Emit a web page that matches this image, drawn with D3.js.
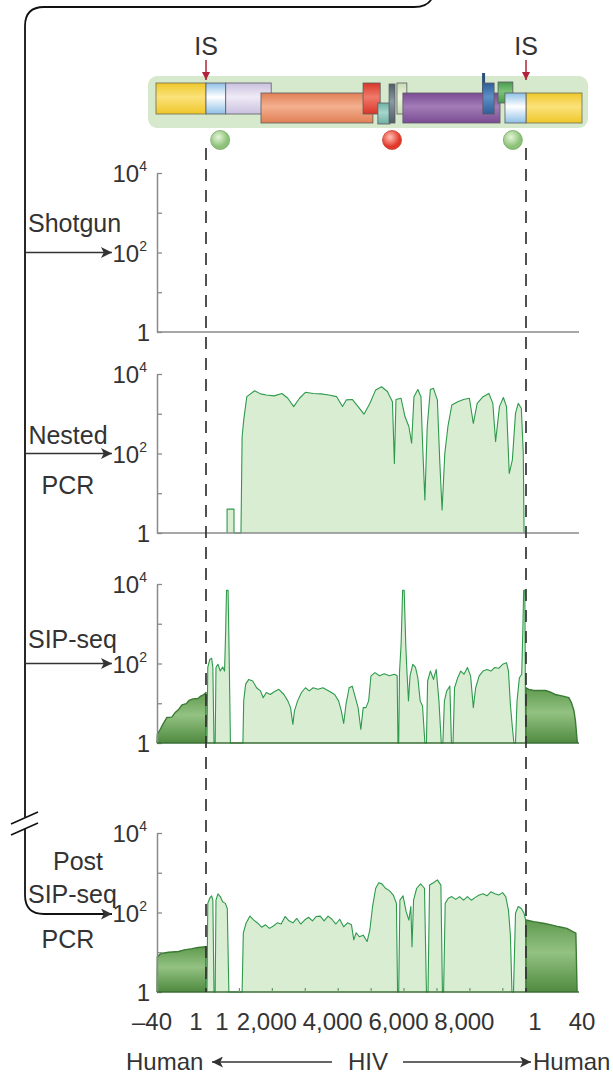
<!DOCTYPE html>
<html>
<head>
<meta charset="utf-8">
<script src="https://cdn.jsdelivr.net/npm/d3@7"></script>
<style>
  body { margin: 0; background: #fff; }
  svg { display: block; font-family: "Liberation Sans", Arial, sans-serif; }
</style>
</head>
<body>
<svg id="chart" width="613" height="1078"></svg>
<script>
// genome length (HXB2) and flanking human sequence
var hivLen = 9719;

// tick labels on the bottom axis
var leftTicks = [-40, 1];
var hivTicks = [1, 2000, 4000, 6000, 8000];
var rightTicks = [1, 40];
var hivMinor = [1000, 2000, 3000, 4000, 5000, 6000, 7000, 8000, 9000];

// genome map: [name, start, end, frame]
var genes = [
  ["ltr5", 0, 600, "top"],
  ["gag", 600, 1980, "top"],
  ["pol", 1670, 5070, "low"],
  ["vif", 4770, 5290, "top"],
  ["vpr", 5220, 5590, "small"],
  ["tat", 5560, 5740, "tall"],
  ["rev", 5800, 6100, "top"],
  ["env", 5980, 8930, "low"],
  ["vpu", 8410, 8750, "top"],
  ["nef", 8870, 9320, "mini"],
  ["ltr3", 9080, 9719, "low"]
];
var circlePos = [430, 5650, 9320];
var circleKind = ["green", "red", "green"];

// coverage, log10 of read depth: [position, log10]
var nestedHiv = [
  [640,0],[640,0.6],[850,0.6],[850,0],[1062,0],[1097,2.42],[1145,2.84],[1240,3.43],[1477,3.58],
  [1655,3.50],[1833,3.47],[2070,3.45],[2307,3.51],[2485,3.39],[2663,3.18],[2841,3.39],[3019,3.54],
  [3256,3.51],[3493,3.50],[3730,3.47],[3968,3.43],[4146,3.18],[4264,3.35],[4442,3.36],[4620,3.18],
  [4798,2.99],[4976,3.26],[5154,3.60],[5332,3.68],[5509,3.56],[5662,3.30],[5722,1.75],[5770,3.36],
  [5924,3.39],[6043,2.93],[6161,2.68],[6245,2.26],[6316,3.43],[6434,3.61],[6529,3.43],[6577,2.26],
  [6648,0.83],[6719,2.68],[6814,3.61],[6909,3.64],[7027,3.35],[7098,1.84],[7170,0.58],[7253,2.0],
  [7348,2.68],[7466,3.22],[7646,3.30],[7822,3.36],[8000,3.39],[8119,2.76],[8237,3.26],[8415,3.43],
  [8593,3.51],[8712,3.26],[8795,2.30],[8913,3.18],[9032,3.41],[9127,3.18],[9210,1.50],[9305,1.84],
  [9400,3.01],[9483,3.26],[9577,3.14],[9637,2.0],[9660,0]
];

var sipLeft = [
  [-40,0],[-39.7,0.22],[-37.4,0.34],[-35.1,0.47],[-31.8,0.64],[-27.6,0.65],[-25,0.76],[-21.7,0.85],
  [-19.1,0.96],[-15.5,0.99],[-13.2,1.07],[-9.9,1.11],[-5.7,1.12],[-3.4,1.18],[-0.8,1.22],[1,1.27],[1,0]
];
var sipHiv = [
  [30,0],[54,1.90],[113,2.10],[172,2.13],[208,1.90],[243,0],[279,0],[303,1.90],[362,1.98],[433,1.81],
  [505,1.91],[564,1.81],[599,2.90],[623,3.84],[671,3.84],[706,2.06],[742,0],[1121,0],[1145,1.06],
  [1204,1.48],[1299,1.60],[1418,1.56],[1536,1.39],[1655,1.31],[1738,1.14],[1833,1.27],[1951,1.22],
  [2070,1.29],[2212,1.35],[2367,1.22],[2485,1.06],[2568,0.89],[2639,0.47],[2687,0.81],[2782,1.06],
  [2900,1.27],[3019,1.39],[3137,1.31],[3256,1.39],[3398,1.35],[3552,1.39],[3730,1.31],[3908,1.22],
  [4027,1.06],[4110,0.81],[4181,0.49],[4252,0.97],[4347,1.39],[4442,1.43],[4537,1.14],[4620,0.89],
  [4703,0.34],[4774,0.89],[4857,0.89],[4940,1.06],[5011,1.69],[5130,1.77],[5272,1.69],[5414,1.74],
  [5569,1.69],[5723,1.73],[5806,1.69],[5830,0],[5853,0],[5877,1.77],[5925,2.48],[5972,3.84],
  [6019,3.84],[6067,2.48],[6102,1.81],[6150,1.06],[6197,1.69],[6280,1.98],[6363,1.90],[6434,1.64],
  [6505,1.06],[6577,0.93],[6648,0],[6695,0],[6731,1.56],[6814,1.81],[6909,1.60],[6992,1.85],
  [7075,1.06],[7146,0],[7193,0],[7241,1.06],[7312,1.31],[7407,1.43],[7454,0],[7502,0],[7549,1.39],
  [7644,1.64],[7739,1.81],[7834,1.73],[7941,1.90],[8036,1.69],[8119,0.89],[8190,1.39],[8297,1.69],
  [8415,1.81],[8534,1.85],[8652,1.81],[8771,1.90],[8890,1.88],[9008,1.98],[9127,2.02],[9186,1.81],
  [9245,0.97],[9305,0.39],[9352,0],[9400,0],[9447,1.06],[9518,1.64],[9589,1.73],[9625,2.90],
  [9648,3.84],[9684,3.84],[9708,0]
];
var sipRight = [
  [1,0],[1,1.39],[3,1.35],[6.7,1.32],[15.3,1.32],[18.2,1.29],[22.5,1.22],[28.2,1.18],[32.5,1.14],
  [34.5,1.01],[36.3,0.81],[37.4,0.55],[38.8,0]
];

var postLeft = [
  [-40,0],[-39.7,0.89],[-36.7,0.97],[-30.2,1.0],[-22,1.02],[-17.1,1.06],[-10.6,1.09],[-5.7,1.12],[1,1.14],[1,0]
];
var postHiv = [
  [30,0],[54,2.23],[113,2.36],[172,2.42],[208,2.31],[243,0],[279,0],[303,2.31],[362,2.47],[433,2.40],
  [505,2.27],[587,2.23],[647,2.10],[694,0],[1097,0],[1133,1.48],[1216,1.73],[1335,1.91],[1453,1.81],
  [1572,1.73],[1690,1.63],[1809,1.69],[1928,1.60],[2046,1.66],[2165,1.74],[2283,1.71],[2402,1.90],
  [2520,1.79],[2639,1.74],[2758,1.85],[2876,1.71],[2995,1.81],[3113,1.88],[3232,1.79],[3351,1.90],
  [3469,1.91],[3588,1.79],[3707,1.91],[3825,1.83],[3944,1.71],[4062,1.83],[4181,1.64],[4299,1.74],
  [4418,1.69],[4489,1.31],[4561,1.49],[4656,1.39],[4774,1.43],[4893,1.27],[4976,1.56],[5059,2.15],
  [5154,2.61],[5248,2.75],[5343,2.72],[5450,2.61],[5569,2.55],[5688,2.44],[5783,2.23],[5818,0],
  [5853,0],[5889,2.31],[5984,2.42],[6079,2.02],[6161,1.81],[6221,2.15],[6257,1.14],[6304,2.31],
  [6399,2.61],[6517,2.72],[6636,2.61],[6695,0],[6743,0],[6790,2.69],[6909,2.75],[7027,2.82],
  [7134,2.69],[7181,0],[7217,0],[7265,2.23],[7360,2.36],[7466,2.40],[7585,2.33],[7703,2.40],
  [7822,2.31],[7941,2.40],[8059,2.31],[8178,2.38],[8297,2.44],[8415,2.47],[8534,2.42],[8652,2.52],
  [8771,2.47],[8890,2.44],[9008,2.50],[9103,2.40],[9186,2.06],[9245,1.43],[9293,0],[9340,0],
  [9400,1.98],[9483,2.15],[9577,2.10],[9660,1.98],[9708,1.81],[9719,0]
];
var postRight = [
  [1,0],[1,1.81],[6.7,1.77],[13.8,1.73],[19.6,1.69],[25.3,1.64],[31.1,1.60],[35.4,1.52],[37.7,1.48],[38.6,0]
];

var methods = [["Shotgun"], ["Nested", "PCR"], ["SIP-seq"], ["Post", "SIP-seq", "PCR"]];

// ---------------------------------------------------------------
var svg = d3.select("svg");
var axisX = 157, plotW = 422;
var panelTop = [173, 374, 584, 833], panelH = 159;
var ink = "#333", axisCol = "#8a8a8a";
var lightFill = "#d9edd3", lineCol = "#2e9a4c";
var fs = 25, tfs = 24;

var xLeft = d3.scaleLinear().domain([-40, 1]).range([157, 206]);
var xHiv = d3.scaleLinear().domain([0, hivLen]).range([206, 526]);
var xRight = d3.scaleLinear().domain([1, 40]).range([526, 579]);

var defs = svg.append("defs");
var hg = defs.append("linearGradient").attr("id", "human").attr("x1", 0).attr("y1", 0).attr("x2", 0).attr("y2", 1);
hg.append("stop").attr("offset", "0%").attr("stop-color", "#5f9a4e");
hg.append("stop").attr("offset", "45%").attr("stop-color", "#93c282");
hg.append("stop").attr("offset", "100%").attr("stop-color", "#4f8a3f");

function grad(id, c0, c1) {
  var lg = defs.append("linearGradient").attr("id", id).attr("x1", 0).attr("y1", 0).attr("x2", 0).attr("y2", 1);
  lg.append("stop").attr("offset", "0%").attr("stop-color", c1);
  lg.append("stop").attr("offset", "45%").attr("stop-color", c0);
  lg.append("stop").attr("offset", "100%").attr("stop-color", c1);
}
var geneCol = {
  flank: ["#fbe27a", "#efc72a"], ltr5: ["#ffffff", "#8fc0e6"], ltr3: ["#ffffff", "#8fc0e6"],
  gag: ["#efeaf6", "#c9c1de"], pol: ["#f4b08f", "#e07f56"], vif: ["#f07a6a", "#d8362a"],
  vpr: ["#a7d6cc", "#6fb0a4"], tat: ["#8a9aa2", "#4e5d66"], rev: ["#eef4e2", "#c8dcb2"],
  env: ["#a27cb7", "#7a4c93"], vpu: ["#5e8fc6", "#2f5e98"], nef: ["#7cc27a", "#4a9a50"]
};
Object.keys(geneCol).forEach(function(k) { grad("g_" + k, geneCol[k][0], geneCol[k][1]); });
var cg = defs.append("radialGradient").attr("id", "c_green").attr("cx", "40%").attr("cy", "35%");
cg.append("stop").attr("offset", "0%").attr("stop-color", "#e6f5da");
cg.append("stop").attr("offset", "100%").attr("stop-color", "#8cc277");
var cr = defs.append("radialGradient").attr("id", "c_red").attr("cx", "40%").attr("cy", "35%");
cr.append("stop").attr("offset", "0%").attr("stop-color", "#ffc2b4");
cr.append("stop").attr("offset", "100%").attr("stop-color", "#e2382a");

var ah = defs.append("marker").attr("id", "arrow").attr("viewBox", "0 0 10 10")
  .attr("refX", 10).attr("refY", 5).attr("markerWidth", 14).attr("markerHeight", 11)
  .attr("markerUnits", "userSpaceOnUse").attr("orient", "auto");
ah.append("path").attr("d", "M0,0L10,5L0,10L2.5,5z").attr("fill", ink);
var ra = defs.append("marker").attr("id", "redarrow").attr("viewBox", "0 0 10 10")
  .attr("refX", 10).attr("refY", 5).attr("markerWidth", 8).attr("markerHeight", 8)
  .attr("markerUnits", "userSpaceOnUse").attr("orient", "auto");
ra.append("path").attr("d", "M0,0L10,5L0,10z").attr("fill", "#b0233a");

// ---- genome map -----------------------------------------------
var frameY = { top: [83, 31], low: [93, 30], small: [103, 21], tall: [84, 39], mini: [82, 21] };
svg.append("rect").attr("x", 148).attr("y", 76).attr("width", 440).attr("height", 52)
  .attr("rx", 9).attr("fill", "#d7e9cd");
svg.append("rect").attr("x", xLeft(-40) - 1).attr("y", 83).attr("width", xLeft(1) - xLeft(-40) + 1)
  .attr("height", 31).attr("fill", "url(#g_flank)").attr("stroke", "#6b6b50").attr("stroke-width", 0.8);
svg.append("rect").attr("x", xRight(1)).attr("y", 93).attr("width", xRight(40) - xRight(1) + 3)
  .attr("height", 30).attr("fill", "url(#g_flank)").attr("stroke", "#6b6b50").attr("stroke-width", 0.8);
// vpu stem
svg.append("line").attr("x1", xHiv(8430)).attr("x2", xHiv(8430)).attr("y1", 73).attr("y2", 93)
  .attr("stroke", "#2f4f7a").attr("stroke-width", 3);
svg.selectAll(".gene").data(genes).enter().append("rect").attr("class", "gene")
  .attr("x", function(d) { return xHiv(d[1]); })
  .attr("width", function(d) { return xHiv(d[2]) - xHiv(d[1]); })
  .attr("y", function(d) { return frameY[d[3]][0]; })
  .attr("height", function(d) { return frameY[d[3]][1]; })
  .attr("fill", function(d) { return "url(#g_" + d[0] + ")"; })
  .attr("stroke", "#5a5a60").attr("stroke-width", 0.8);

svg.selectAll(".site").data(circlePos).enter().append("circle")
  .attr("cx", function(d) { return xHiv(d); }).attr("cy", 140).attr("r", 9.5)
  .attr("fill", function(d, i) { return "url(#c_" + circleKind[i] + ")"; })
  .attr("stroke", function(d, i) { return circleKind[i] == "red" ? "#c8402e" : "#7aa66a"; })
  .attr("stroke-width", 0.8);

[xHiv(0), xHiv(hivLen)].forEach(function(x) {
  svg.append("text").attr("x", x).attr("y", 55).attr("text-anchor", "middle")
    .attr("font-size", fs).attr("fill", ink).text("IS");
  svg.append("line").attr("x1", x).attr("x2", x).attr("y1", 60).attr("y2", 80)
    .attr("stroke", "#b0233a").attr("stroke-width", 1.5).attr("marker-end", "url(#redarrow)");
});

// ---- connector line on the left ------------------------------
svg.append("path")
  .attr("d", "M432,-2 Q428,7 414,7 L44,7 Q25,7 25,26 L25,817")
  .attr("fill", "none").attr("stroke", "#111").attr("stroke-width", 1.8);
svg.append("path")
  .attr("d", "M25,829 L25,895 Q25,914 44,914 L112,914")
  .attr("fill", "none").attr("stroke", "#111").attr("stroke-width", 1.8)
  .attr("marker-end", "url(#arrow)");
svg.append("line").attr("x1", 11).attr("y1", 824).attr("x2", 38).attr("y2", 812).attr("stroke", "#111").attr("stroke-width", 1.6);
svg.append("line").attr("x1", 11).attr("y1", 835).attr("x2", 38).attr("y2", 823).attr("stroke", "#111").attr("stroke-width", 1.6);

// ---- panels ---------------------------------------------------
var series = [
  [null, null, null],
  [null, nestedHiv, null],
  [sipLeft, sipHiv, sipRight],
  [postLeft, postHiv, postRight]
];

methods.forEach(function(lines, i) {
  var top = panelTop[i], bottom = top + panelH;
  var y = d3.scaleLog().domain([1, 1e4]).range([bottom, top]);
  var g = svg.append("g");
  var yv = function(d) { return y(Math.pow(10, d[1])); };

  var segs = series[i];
  [xLeft, xHiv, xRight].forEach(function(xs, k) {
    if (!segs[k]) return;
    var human = k != 1;
    var area = d3.area().x(function(d) { return xs(d[0]); }).y0(bottom).y1(yv);
    var line = d3.line().x(function(d) { return xs(d[0]); }).y(yv);
    g.append("path").datum(segs[k]).attr("d", area)
      .attr("fill", human ? "url(#human)" : lightFill);
    g.append("path").datum(segs[k]).attr("d", line).attr("fill", "none")
      .attr("stroke", human ? "#3b7a34" : lineCol).attr("stroke-width", human ? 1.4 : 1.1)
      .attr("stroke-linejoin", "round");
  });

  // axes
  var ya = g.append("g").attr("transform", "translate(" + axisX + ",0)")
    .call(d3.axisRight(y).tickValues([1, 10, 100, 1000, 10000]).tickSize(5).tickSizeOuter(0).tickFormat(""));
  ya.select(".domain").attr("stroke", axisCol).attr("stroke-width", 1.5);
  ya.selectAll(".tick line").attr("stroke", axisCol).attr("stroke-width", 1.3);
  g.append("line").attr("x1", axisX).attr("x2", axisX + plotW).attr("y1", bottom).attr("y2", bottom)
    .attr("stroke", i == 0 || i == 1 ? axisCol : "#3a6e36").attr("stroke-width", 1.5);

  if (i == 3) {
    var xa = g.append("g").attr("transform", "translate(0," + bottom + ")")
      .call(d3.axisTop(xHiv).tickValues(hivMinor).tickSize(4).tickSizeOuter(0).tickFormat(""));
    xa.select(".domain").remove();
    xa.selectAll(".tick line").attr("stroke", "#6a9a66").attr("stroke-width", 1.2);
  }

  // y labels
  g.append("text").attr("x", 150).attr("y", bottom + 9).attr("text-anchor", "end")
    .attr("font-size", tfs).attr("fill", ink).text("1");
  [2, 4].forEach(function(p) {
    var t = g.append("text").attr("x", 147).attr("y", y(Math.pow(10, p)) + 9)
      .attr("text-anchor", "end").attr("font-size", tfs).attr("fill", ink);
    t.append("tspan").text("10");
    t.append("tspan").attr("font-size", 14).attr("dy", -11).text(p);
  });

  // method label + arrow
  var ay = y(100);
  if (i < 3) {
    g.append("line").attr("x1", 25).attr("x2", 112).attr("y1", ay).attr("y2", ay)
      .attr("stroke", ink).attr("stroke-width", 1.6).attr("marker-end", "url(#arrow)");
  }
  var txt = function(x, dy, s, anchor) {
    g.append("text").attr("x", x).attr("y", ay + dy).attr("text-anchor", anchor || "start")
      .attr("font-size", fs).attr("fill", ink).text(s);
  };
  if (lines.length == 1) {
    txt(28, i == 0 ? -21 : -16, lines[0]);
  } else if (lines.length == 2) {
    txt(68, -10, lines[0], "middle");
    txt(68, 40, lines[1], "middle");
  } else {
    txt(78, -43, lines[0], "middle");
    txt(28, -10, lines[1]);
    txt(68, 35, lines[2], "middle");
  }
});

// dashed integration-site lines
[xHiv(0), xHiv(hivLen)].forEach(function(x) {
  svg.append("line").attr("x1", x).attr("x2", x).attr("y1", 148).attr("y2", 992)
    .attr("stroke", "#333").attr("stroke-width", 1.7).attr("stroke-dasharray", "12,9");
});

// bottom tick labels
var fmt = d3.format(",");
var ly = 1030;
function tickLabel(x, v) {
  svg.append("text").attr("x", x).attr("y", ly).attr("text-anchor", "middle")
    .attr("font-size", tfs).attr("fill", ink).text(v < 0 ? "\u2013" + (-v) : fmt(v));
}
tickLabel(xLeft(leftTicks[0]) - 5, leftTicks[0]);
tickLabel(xLeft(leftTicks[1]) - 10, leftTicks[1]);
hivTicks.forEach(function(v) { tickLabel(v == 1 ? xHiv(v) + 16 : xHiv(v) - 5, v); });
tickLabel(xRight(rightTicks[0]) + 9, rightTicks[0]);
tickLabel(xRight(rightTicks[1]) + 3, rightTicks[1]);

// Human <- HIV -> Human
svg.append("text").attr("x", 126).attr("y", 1070).attr("font-size", tfs).attr("fill", ink).text("Human");
svg.append("text").attr("x", 368).attr("y", 1070).attr("text-anchor", "middle").attr("font-size", tfs).attr("fill", ink).text("HIV");
svg.append("text").attr("x", 533).attr("y", 1070).attr("font-size", tfs).attr("fill", ink).text("Human");
svg.append("line").attr("x1", 332).attr("x2", 212).attr("y1", 1062).attr("y2", 1062)
  .attr("stroke", ink).attr("stroke-width", 1.6).attr("marker-end", "url(#arrow)");
svg.append("line").attr("x1", 403).attr("x2", 531).attr("y1", 1062).attr("y2", 1062)
  .attr("stroke", ink).attr("stroke-width", 1.6).attr("marker-end", "url(#arrow)");
</script>
</body>
</html>
